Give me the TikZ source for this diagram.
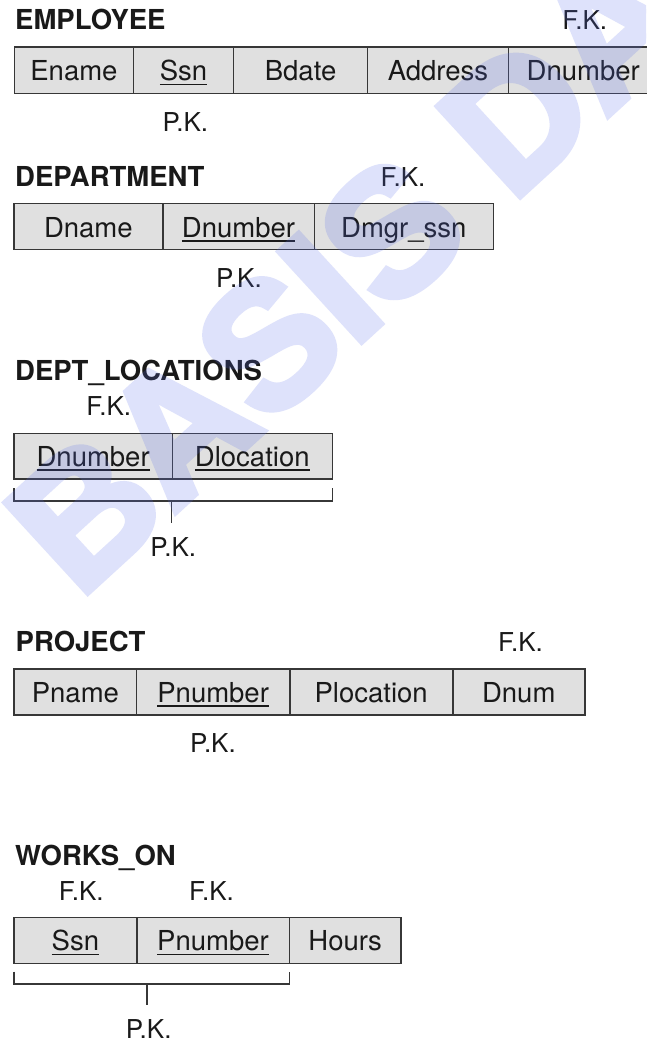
\documentclass[tikz,border=0pt]{standalone}
\usepackage{fontspec}
\setmainfont{TeX Gyre Heros}
\newfontfamily\wmfont[FakeBold=4]{Liberation Sans}
\definecolor{cellc}{RGB}{224,224,224}
\definecolor{bordc}{RGB}{55,55,55}
\definecolor{txt}{RGB}{25,25,25}
\definecolor{wmc}{RGB}{90,110,235}
\newcommand\cellfont{\fontsize{27.5}{30}\selectfont}
\newcommand\ttlfont{\fontsize{27.5}{30}\selectfont\bfseries}
\newcommand\lblfont{\fontsize{26}{30}\selectfont}
\newsavebox\kbox
\newcommand\keyul[1]{\sbox\kbox{#1}\rlap{\rule[-4.5pt]{\wd\kbox}{1.6pt}}\usebox\kbox}
\newcommand\rcell[6]{\node[cell, minimum width={(#3-#2)*1pt}, minimum height={(#5-#4)*1pt}] (#1) at ({(#2+#3)/2},{(#4+#5)/2}) {#6};}
\tikzset{
  cell/.style={draw=bordc, fill=cellc, line width=1.6pt, inner sep=0pt, outer sep=0pt,
    text height=21pt, text depth=0pt, font=\cellfont, text=txt},
  ttl/.style={anchor=base west, inner sep=0pt, font=\ttlfont, text=txt},
  lbl/.style={anchor=base, inner sep=0pt, font=\lblfont, text=txt},
  brk/.style={draw=bordc, line width=1.6pt},
  wmk/.style={anchor=base west, inner sep=0pt, rotate=42.5,
    font=\wmfont\bfseries\fontsize{176}{176}\selectfont, text=wmc}
}
\begin{document}
\begin{tikzpicture}[x=1pt,y=-1pt]
\useasboundingbox (0,0) rectangle (646,1041);
\fill[white] (0,0) rectangle (646,1041);

% EMPLOYEE
\node[ttl] (empT) at (15,29.8) {EMPLOYEE};
\node[lbl] (empFK) at (584.7,29.8) {F.K.};
\rcell{e1}{14.4}{133.5}{47.3}{93.3}{Ename}
\rcell{e2}{133.5}{233.6}{47.3}{93.3}{\keyul{Ssn}}
\rcell{e3}{233.6}{367.5}{47.3}{93.3}{Bdate}
\rcell{e4}{367.5}{508.4}{47.3}{93.3}{Address}
\rcell{e5}{508.4}{658}{47.3}{93.3}{Dnumber}
\node[lbl] (empPK) at (185.4,131.5) {P.K.};

% DEPARTMENT
\node[ttl] (depT) at (15,186.7) {DEPARTMENT};
\node[lbl] (depFK) at (403,186.7) {F.K.};
\rcell{d1}{14}{162.7}{203.5}{249.5}{Dname}
\rcell{d2}{162.7}{314.3}{203.5}{249.5}{\keyul{Dnumber}}
\rcell{d3}{314.3}{493.3}{203.5}{249.5}{Dmgr\_ssn}
\node[lbl] (depPK) at (239,287.3) {P.K.};

% DEPT_LOCATIONS
\node[ttl] (dlT) at (15,380.7) {DEPT\_LOCATIONS};
\node[lbl] (dlFK) at (108.7,415) {F.K.};
\rcell{l1}{14}{172.3}{433.3}{478.7}{\keyul{Dnumber}}
\rcell{l2}{172.3}{332.3}{433.3}{478.7}{\keyul{Dlocation}}
\coordinate (lbL) at (14,488.3);
\coordinate (lbR) at (332.3,488.3);
\coordinate (lbM) at (171.5,501);
\coordinate (lbS) at (171.5,522.7);
\draw[brk] (lbL) -- (lbL |- lbM) -- (lbR |- lbM) -- (lbR);
\draw[brk] (lbM) -- (lbS);
\node[lbl] (dlPK) at (173.3,556) {P.K.};

% PROJECT
\node[ttl] (prT) at (15.5,651.7) {PROJECT};
\node[lbl] (prFK) at (520.5,651.7) {F.K.};
\rcell{p1}{14.2}{136.6}{669}{715}{Pname}
\rcell{p2}{136.6}{289.7}{669}{715}{\keyul{Pnumber}}
\rcell{p3}{289.7}{452.7}{669}{715}{Plocation}
\rcell{p4}{452.7}{584.8}{669}{715}{Dnum}
\node[lbl] (prPK) at (213,752.3) {P.K.};

% WORKS_ON
\node[ttl] (woT) at (15,865) {WORKS\_ON};
\node[lbl] (woFK1) at (81.2,900) {F.K.};
\node[lbl] (woFK2) at (211.5,900) {F.K.};
\rcell{w1}{14}{136.7}{917.3}{963.3}{\keyul{Ssn}}
\rcell{w2}{136.7}{289.3}{917.3}{963.3}{\keyul{Pnumber}}
\rcell{w3}{289.3}{401}{917.3}{963.3}{Hours}
\coordinate (wbL) at (14,971.7);
\coordinate (wbR) at (289.3,971.7);
\coordinate (wbM) at (146.7,984);
\coordinate (wbS) at (146.7,1005);
\draw[brk] (wbL) -- (wbL |- wbM) -- (wbR |- wbM) -- (wbR);
\draw[brk] (wbM) -- (wbS);
\node[lbl] (woPK) at (148.7,1038.3) {P.K.};

% watermark
\begin{scope}[transparency group, opacity=0.2]
\clip (0,0) rectangle (646,1041);
\node[wmk] (wm) at (79,600) {BASIS DATA};
\end{scope}
\end{tikzpicture}
\end{document}
